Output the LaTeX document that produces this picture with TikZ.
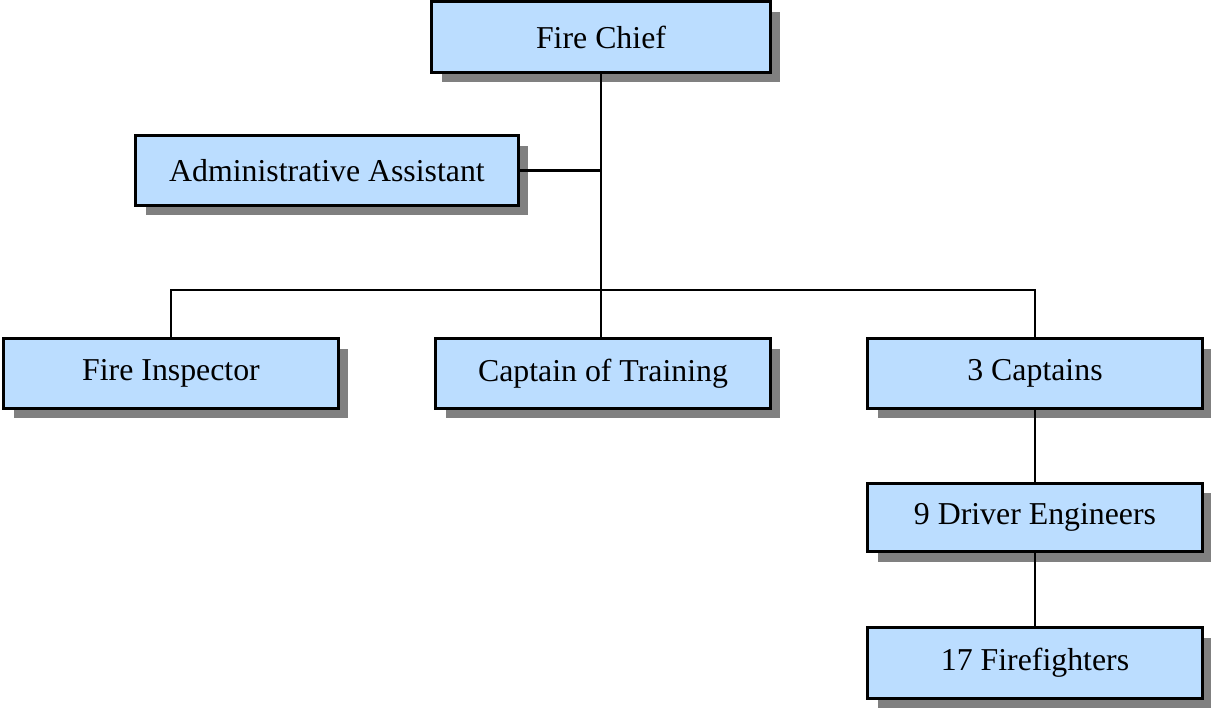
\documentclass[tikz,border=0pt]{standalone}
\usepackage{fontspec}
\setmainfont{Liberation Serif}
\usetikzlibrary{shadows}

\definecolor{boxblue}{RGB}{187,221,255}
\definecolor{shadowgray}{RGB}{128,128,128}

\begin{document}
\begin{tikzpicture}[x=0.01cm, y=-0.01cm,
  post/.style={draw=black, line width=0.85pt, fill=boxblue, outer sep=0pt,
    minimum width=3.34cm, minimum height=0.69cm, inner sep=0pt,
    font=\fontsize{9.05}{11}\selectfont,
    drop shadow={shadow xshift=0.1cm, shadow yshift=-0.1cm, opacity=1, fill=shadowgray}},
  link/.style={draw=black, line width=0.65pt},
  trunk/.style={draw=black, line width=0.85pt}]
\useasboundingbox (0,0) rectangle (1211,709);

\def\busy{290}

\node[post, minimum width=3.38cm, minimum height=0.70cm] (chief) at (601,37) {Fire Chief};
\node[post, minimum width=3.82cm] (admin) at (327,170.5) {Administrative Assistant};
\node[post] (inspector) at (171,373.5) {Fire Inspector};
\node[post] (training) at (603,373.5) {Captain of Training};
\node[post] (captains) at (1035,373.5) {3 Captains};
\node[post, minimum height=0.68cm] (drivers) at (1035,517.5) {9 Driver Engineers};
\node[post, minimum height=0.70cm] (firefighters) at (1035,663) {17 Firefighters};

\coordinate (bus) at (601,\busy);

\draw[link] (inspector.north) -- (inspector.north |- bus) -- (captains.north |- bus) -- (captains.north);
\draw[trunk] (chief.south) -- (chief.south |- training.north);
\draw[link] (admin.east) -- (admin.east -| chief.south);
\draw[link] (captains.south) -- (drivers.north);
\draw[link] (drivers.south) -- (firefighters.north);
\end{tikzpicture}
\end{document}
